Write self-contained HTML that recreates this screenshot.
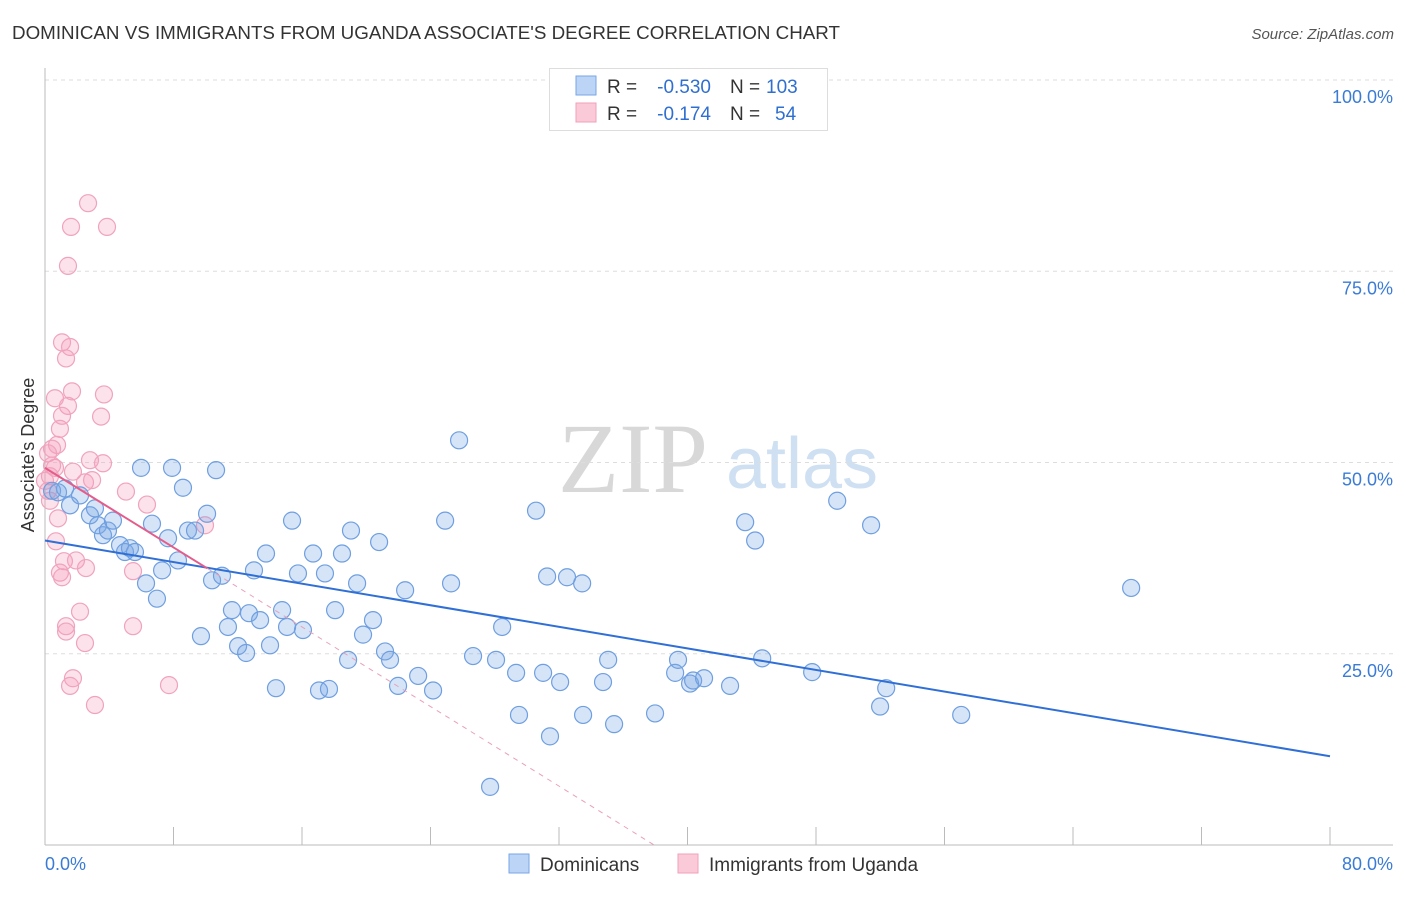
<!DOCTYPE html>
<html><head><meta charset="utf-8"><style>
body{margin:0;background:#fff;font-family:"Liberation Sans",sans-serif;}
</style></head><body>
<svg id="chart" width="1406" height="892" font-family="Liberation Sans, sans-serif">
<text x="12" y="39" font-size="18" fill="#333" textLength="828" lengthAdjust="spacingAndGlyphs">DOMINICAN VS IMMIGRANTS FROM UGANDA ASSOCIATE'S DEGREE CORRELATION CHART</text>
<text x="1394" y="39" font-size="15" fill="#555" font-style="italic" text-anchor="end">Source: ZipAtlas.com</text>
<g>
<text x="633" y="492" font-size="100" fill="#d8d8d8" font-family="Liberation Serif, serif" text-anchor="middle">ZIP</text>
<text x="802" y="488" font-size="72" fill="#cfe0f3" text-anchor="middle">atlas</text>
</g>
<g id="grid"></g>
<g id="axes"></g>
<g id="dots"></g>
<g id="trends"></g>
<g>
<rect x="549.5" y="68.5" width="278" height="62" fill="#fff" stroke="#ddd"/>
<rect x="576" y="76" width="20" height="19" fill="#bcd4f5" stroke="#7aa6e6"/>
<rect x="576" y="103" width="20" height="19" fill="#fbcad9" stroke="#f0a0ba"/>
<text x="607" y="93" font-size="19" fill="#333">R =</text>
<text x="711" y="93" font-size="19" fill="#2f6fd0" text-anchor="end">-0.530</text>
<text x="730" y="93" font-size="19" fill="#333">N =</text>
<text x="766" y="93" font-size="19" fill="#2f6fd0">103</text>
<text x="607" y="120" font-size="19" fill="#333">R =</text>
<text x="711" y="120" font-size="19" fill="#2f6fd0" text-anchor="end">-0.174</text>
<text x="730" y="120" font-size="19" fill="#333">N =</text>
<text x="775" y="120" font-size="19" fill="#2f6fd0">54</text>
</g>
<g>
<rect x="509" y="854" width="20" height="19" fill="#bcd4f5" stroke="#7aa6e6"/>
<text x="540" y="871" font-size="19" fill="#333">Dominicans</text>
<rect x="678" y="854" width="20" height="19" fill="#fbcad9" stroke="#f0a0ba"/>
<text x="709" y="871" font-size="19" fill="#333">Immigrants from Uganda</text>
</g>
<text transform="translate(34,455) rotate(-90)" font-size="18" fill="#333" text-anchor="middle">Associate's Degree</text>
</svg>
<script>
const yTicks=[25,50,75,100];
const yTickLabels=["25.0%","50.0%","75.0%","100.0%"];
const xTicks=[0,8,16,24,32,40,48,56,64,72,80];
const xEndLabels=["0.0%","80.0%"];
const blueX=[0.44,0.81,1.25,1.56,2.18,2.80,3.11,3.30,3.61,3.92,4.23,4.67,4.98,5.29,5.60,5.98,6.29,6.66,6.97,7.29,7.66,7.91,8.28,8.59,8.90,9.34,9.71,10.09,10.40,10.65,11.02,11.39,11.64,12.02,12.52,12.70,13.01,13.39,13.76,14.01,14.38,14.76,15.07,15.38,15.75,16.06,16.69,17.06,17.43,17.68,18.06,18.49,18.87,19.05,19.43,19.80,20.42,20.80,21.17,21.48,21.98,22.42,23.23,24.16,24.91,25.28,25.78,26.65,27.71,28.08,28.46,29.33,29.51,30.57,31.01,31.26,31.44,32.07,32.50,33.50,33.44,34.74,35.06,35.43,37.98,39.23,39.41,40.16,40.35,41.03,42.65,43.59,44.21,44.65,47.76,49.32,51.43,51.99,52.37,57.04,67.62];
const blueY=[46.3,46.1,46.6,44.4,45.7,43.1,44.0,41.8,40.5,41.1,42.4,39.2,38.3,38.8,38.3,49.3,34.2,42.0,32.2,35.9,40.1,49.3,37.2,46.7,41.1,41.1,27.3,43.3,34.6,49.0,35.2,28.5,30.7,26.0,25.1,30.3,35.9,29.4,38.1,26.1,20.5,30.7,28.5,42.4,35.5,28.1,38.1,20.2,35.5,20.4,30.7,38.1,24.2,41.1,34.2,27.5,29.4,39.6,25.3,24.2,20.8,33.3,22.1,20.2,42.4,34.2,52.9,24.7,7.6,24.2,28.5,22.5,17.0,43.7,22.5,35.1,14.2,21.3,35.0,17.0,34.2,21.3,24.2,15.8,17.2,22.5,24.2,21.1,21.5,21.8,20.8,42.2,39.8,24.4,22.6,45.0,41.8,18.1,20.5,17.0,33.6];
const pinkX=[2.68,1.62,3.86,1.43,1.06,1.56,1.31,1.68,0.62,3.67,1.43,1.06,3.49,0.93,0.75,0.44,0.19,2.80,3.61,0.62,1.74,0.31,2.49,2.93,0.19,5.04,6.35,0.81,9.96,0.68,1.18,1.93,2.55,5.48,0.93,1.06,2.18,1.31,1.31,2.49,5.48,1.74,1.56,7.72,3.11,0.31,0.0,0.44];
const pinkY=[83.9,80.8,80.8,75.7,65.7,65.1,63.6,59.3,58.4,58.9,57.4,56.1,56.0,54.4,52.3,51.8,51.2,50.3,49.9,49.3,48.8,48.2,47.4,47.7,46.3,46.2,44.5,42.7,41.8,39.7,37.1,37.2,36.2,35.8,35.6,35.0,30.5,28.6,27.9,26.4,28.6,21.8,20.8,20.9,18.3,45.0,47.6,49.6];
const blueTrend=[39.8,11.6];
const pinkTrend=[49.3,-1.3];
const pinkSolidEnd=10.1;
const NS="http://www.w3.org/2000/svg";
const L=45,R=1330,T=80,B=845;
const sx=v=>L+(v/80)*(R-L);
const sy=v=>B-(v/100)*(B-T);
function mk(tag,attrs,parent){const e=document.createElementNS(NS,tag);for(const k in attrs)e.setAttribute(k,attrs[k]);document.getElementById(parent).appendChild(e);return e;}
yTicks.forEach((t,i)=>{
 const g=mk('line',{x1:L,x2:1393,y1:sy(t),y2:sy(t),stroke:'#ddd','stroke-dasharray':'4,4'},'grid');
 
 
 const tx=mk('text',{x:1393,y:sy(t)+23,'font-size':18,fill:'#3a7bd5','text-anchor':'end'},'grid');
 tx.textContent=yTickLabels[i];
 
 
});
const ax=mk('line',{x1:L,x2:L,y1:68,y2:B,stroke:'#bbb'},'axes');


const bx=mk('line',{x1:L,x2:1393,y1:B,y2:B,stroke:'#bbb'},'axes');


xTicks.forEach(t=>{
 const tk=mk('line',{x1:sx(t),x2:sx(t),y1:B,y2:B-18,stroke:'#bbb'},'axes');
 
 
});
const xl0=mk('text',{x:45,y:870,'font-size':18,fill:'#3a7bd5'},'axes');xl0.textContent=xEndLabels[0];


const xl1=mk('text',{x:1393,y:870,'font-size':18,fill:'#3a7bd5','text-anchor':'end'},'axes');xl1.textContent=xEndLabels[1];


pinkX.forEach((x,i)=>{
 const c=mk('circle',{cx:sx(x),cy:sy(pinkY[i]),r:8.5,fill:'rgba(244,160,188,0.3)',stroke:'#f0a3bd','stroke-width':1.2},'dots');
 
 
});
blueX.forEach((x,i)=>{
 const c=mk('circle',{cx:sx(x),cy:sy(blueY[i]),r:8.5,fill:'rgba(120,165,230,0.3)',stroke:'#6f9fe0','stroke-width':1.2},'dots');
 
 
});
const bl=mk('line',{x1:sx(0),y1:sy(blueTrend[0]),x2:sx(80),y2:sy(blueTrend[1]),stroke:'#2f6fd6','stroke-width':2},'trends');


const zeroX=-pinkTrend[0]/pinkTrend[1];
const pd=mk('line',{x1:sx(pinkSolidEnd),y1:sy(pinkTrend[0]+pinkTrend[1]*pinkSolidEnd),x2:sx(zeroX),y2:sy(0),stroke:'#eaa0b8','stroke-width':1,'stroke-dasharray':'5,5'},'trends');


const pl=mk('line',{x1:sx(0),y1:sy(pinkTrend[0]),x2:sx(pinkSolidEnd),y2:sy(pinkTrend[0]+pinkTrend[1]*pinkSolidEnd),stroke:'#e55c8a','stroke-width':2},'trends');


</script>
</body></html>
